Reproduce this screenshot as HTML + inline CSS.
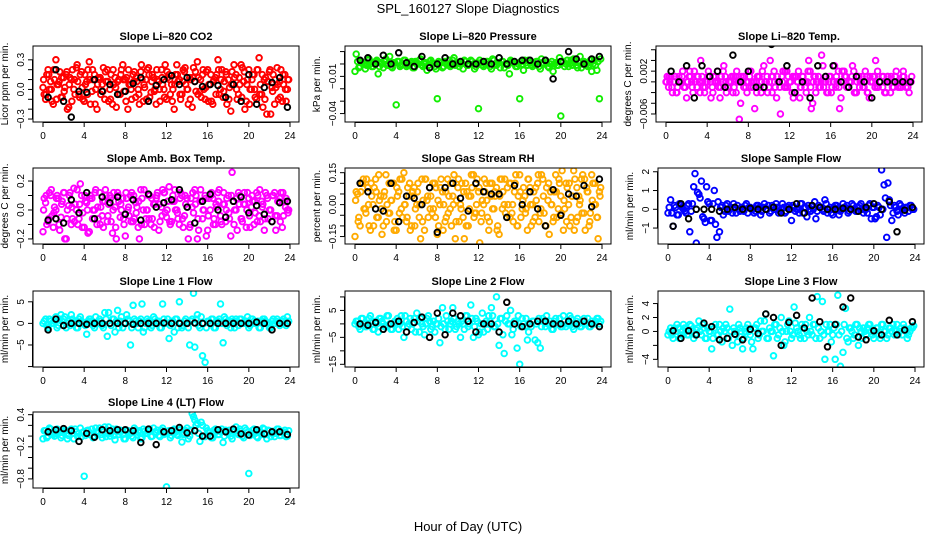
<!DOCTYPE html>
<html><head><meta charset="utf-8"><style>
body{margin:0;background:#fff;}
svg{display:block;font-family:"Liberation Sans",sans-serif;}
</style></head><body>
<svg id="chart" width="936" height="540">
<text x="468" y="13" text-anchor="middle" font-size="13">SPL_160127  Slope Diagnostics</text>
<text x="468" y="531" text-anchor="middle" font-size="13">Hour of Day (UTC)</text>
</svg>
<script>
const hoursA=[0,0.25,0.5,0.75,1,1.25,1.5,1.75,2,2.25,2.5,2.75,3,3.25,3.5,3.75,4,4.25,4.5,4.75,5,5.25,5.5,5.75,6,6.25,6.5,6.75,7,7.25,7.5,7.75,8,8.25,8.5,8.75,9,9.25,9.5,9.75,10,10.25,10.5,10.75,11,11.25,11.5,11.75,12,12.25,12.5,12.75,13,13.25,13.5,13.75,14,14.25,14.5,14.75,15,15.25,15.5,15.75,16,16.25,16.5,16.75,17,17.25,17.5,17.75,18,18.25,18.5,18.75,19,19.25,19.5,19.75,20,20.25,20.5,20.75,21,21.25,21.5,21.75,22,22.25,22.5,22.75,23,23.25,23.5,23.75];
const hoursB=[0.12,0.37,0.62,0.87,1.12,1.37,1.62,1.87,2.12,2.37,2.62,2.87,3.12,3.37,3.62,3.87,4.12,4.37,4.62,4.87,5.12,5.37,5.62,5.87,6.12,6.37,6.62,6.87,7.12,7.37,7.62,7.87,8.12,8.37,8.62,8.87,9.12,9.37,9.62,9.87,10.12,10.37,10.62,10.87,11.12,11.37,11.62,11.87,12.12,12.37,12.62,12.87,13.12,13.37,13.62,13.87,14.12,14.37,14.62,14.87,15.12,15.37,15.62,15.87,16.12,16.37,16.62,16.87,17.12,17.37,17.62,17.87,18.12,18.37,18.62,18.87,19.12,19.37,19.62,19.87,20.12,20.37,20.62,20.87,21.12,21.37,21.62,21.87,22.12,22.37,22.62,22.87,23.12,23.37,23.62,23.87];
const hoursC=[0.06,0.31,0.56,0.81,1.06,1.31,1.56,1.81,2.06,2.31,2.56,2.81,3.06,3.31,3.56,3.81,4.06,4.31,4.56,4.81,5.06,5.31,5.56,5.81,6.06,6.31,6.56,6.81,7.06,7.31,7.56,7.81,8.06,8.31,8.56,8.81,9.06,9.31,9.56,9.81,10.06,10.31,10.56,10.81,11.06,11.31,11.56,11.81,12.06,12.31,12.56,12.81,13.06,13.31,13.56,13.81,14.06,14.31,14.56,14.81,15.06,15.31,15.56,15.81,16.06,16.31,16.56,16.81,17.06,17.31,17.56,17.81,18.06,18.31,18.56,18.81,19.06,19.31,19.56,19.81,20.06,20.31,20.56,20.81,21.06,21.31,21.56,21.81,22.06,22.31,22.56,22.81,23.06,23.31,23.56,23.81];
const hoursK=[0.5,1.25,2,2.75,3.5,4.25,5,5.75,6.5,7.25,8,8.75,9.5,10.25,11,11.75,12.5,13.25,14,14.75,15.5,16.25,17,17.75,18.5,19.25,20,20.75,21.5,22.25,23,23.75];
const xTicks=[0,4,8,12,16,20,24];

const co2A=[.02,-.1,.2,.08,-.15,.3,.05,-.08,.12,.15,-.18,.1,.0,.22,-.05,.18,-.12,.08,.28,-.02,.15,-.2,.1,.05,-.1,.2,.0,-.15,.12,.08,-.05,.25,.1,-.2,.05,.15,-.08,.0,.18,-.12,.1,.22,-.03,.12,-.15,.08,.2,.0,-.1,.15,.05,-.2,.25,.1,-.05,.18,.0,.12,-.18,.08,.28,-.02,.15,-.1,.2,.05,-.15,.12,.3,.0,-.08,.18,.1,-.22,.05,.15,-.05,.25,.08,-.12,.2,.0,.15,-.1,.32,-.05,.1,-.25,.18,.02,-.15,.22,.08,-.12,.15,.0];
const co2B=[-.05,.15,.0,-.12,.1,.05,.18,-.08,.02,-.2,.12,.2,-.05,.08,.15,-.1,.05,.2,-.15,.1,.0,.12,-.05,.22,.08,-.12,.15,.05,-.18,.1,.2,-.02,.12,.05,-.1,.18,.08,-.15,.1,.02,.2,-.08,.15,.0,.1,-.12,.05,.25,.12,-.05,.0,.15,.08,-.1,.2,.05,-.15,.1,.22,-.02,.12,-.08,.0,.18,.05,-.12,.1,.15,-.05,.2,.08,-.15,.02,.18,.12,-.1,.05,.22,-.2,.1,.0,.15,-.08,.2,.05,-.18,.12,.08,-.25,.15,.02,-.1,.2,.05,-.12,.1];
const co2C=[.1,-.05,.15,.0,.2,-.1,.08,.12,-.02,.18,.05,-.12,.1,.25,-.08,.02,.15,-.05,.1,.2,-.15,.05,.12,-.02,.18,.08,-.1,.2,.02,-.05,.15,.1,-.12,.2,.0,.08,.12,-.05,.25,.05,-.1,.15,.08,-.02,.2,.0,.12,-.08,.18,.1,-.12,.05,.15,-.05,.08,.22,.0,-.1,.12,.18,-.05,.1,.2,.02,-.12,.15,.08,-.05,.2,.1,-.02,.15,-.1,.05,.25,.0,.12,-.08,.18,.05,-.15,.1,.0,.2,-.05,.15,-.1,.08,.2,-.02,.1,.05,-.08,.15,.0,.1];
const co2K=[-.08,.2,-.12,-.28,-.02,-.03,.1,-.02,.05,-.05,-.02,.06,.12,-.12,.04,.1,.14,.05,.12,.08,.03,.05,.04,-.08,.05,-.12,.15,-.15,.02,.07,.12,-.18];

const presA=[-.006,.002,-.002,.001,-.004,.003,.0,-.002,.002,-.008,.001,-.003,.004,.0,-.002,.001,-.033,.002,-.001,.003,-.002,.0,.002,-.003,.001,.003,-.001,.0,-.005,.002,.001,-.002,-.028,.001,-.003,.002,.0,-.002,.003,-.001,.001,.0,-.004,.002,-.001,.003,.0,-.002,-.036,.001,-.002,.002,.0,-.004,.003,-.001,.001,.002,-.003,.0,-.008,.002,.001,-.002,-.028,.0,.003,-.001,.001,-.002,.0,.002,-.004,.001,.003,-.002,.0,-.006,.001,-.001,-.042,.002,.0,-.002,.003,.004,-.001,.001,-.003,.002,.0,-.001,-.006,.003,-.005,-.028];
const presB=[.008,-.003,.002,.0,-.001,.004,-.002,.001,.003,-.002,.0,.002,-.001,.006,-.003,.001,.002,-.002,.0,.003,-.001,.001,-.003,.002,.0,.004,-.002,.001,-.001,.003,.0,-.004,.002,.001,-.002,.0,.003,-.001,.005,.0,-.002,.001,.003,-.001,.0,.002,-.004,.001,.003,-.001,.0,.002,-.002,.004,.0,.001,-.003,.002,.0,-.001,.003,.001,-.002,.0,.002,-.005,.001,.003,-.001,.0,.002,-.002,.004,.0,.001,-.003,.002,.0,-.001,.005,.001,-.002,.003,.0,-.001,.002,-.003,.006,.0,.001,-.002,.003,.0,-.001,.002,.004];
const presK=[.003,.005,.0,.007,.0,.009,.001,-.002,.006,-.003,.0,.005,.0,.002,.0,.0,.002,.0,.005,.0,.002,.003,.003,.0,.003,-.012,.002,.01,.004,.0,.004,.006];

const tempA=[0,-.001,.001,0,-.002,.001,0,-.001,-.003,.001,0,.002,-.001,0,.001,-.002,0,.001,-.001,0,.002,-.003,0,.001,-.001,0,-.002,.001,0,-.004,.001,-.001,0,.002,-.001,0,.001,-.002,.003,0,-.001,.001,.002,-.003,0,.001,-.001,.002,0,-.002,.001,0,-.003,.001,-.001,0,.002,-.004,.001,0,-.001,.003,0,-.002,.001,0,-.001,.002,-.003,0,.001,-.001,0,.002,-.002,.001,0,-.001,.001,-.003,0,.001,-.001,0,.001,-.002,.001,0,-.001,.001,0,-.001,.001,0,-.001,0];
const tempB=[.001,0,-.002,.001,-.001,0,.002,-.001,0,.001,-.002,0,.001,.004,-.001,0,.002,-.003,.001,0,-.001,.001,.003,-.002,0,.001,-.001,.002,-.007,0,.001,-.002,.001,0,-.005,.001,-.001,.002,0,-.002,.004,.001,-.001,0,-.006,.002,-.001,.001,0,-.003,.001,.002,-.001,0,-.002,.004,-.005,.001,0,-.001,.005,0,-.002,.001,-.001,.003,0,-.005,.002,.001,-.001,0,.003,-.002,.001,0,-.001,.002,-.002,0,.001,.004,-.001,0,.001,-.002,0,.001,-.001,.002,0,-.001,.001,0,-.002,.001];
const tempC=[0,.001,-.001,0,-.002,0,.001,-.001,0,.002,-.001,0,.001,-.002,0,-.001,.001,0,-.002,.001,0,-.001,.002,0,-.001,0,.001,-.002,0,.001,-.001,0,.002,-.001,0,-.002,.001,0,-.001,.001,0,-.002,0,.001,-.001,0,.002,-.001,0,.001,-.002,0,-.001,.001,0,.002,-.001,0,-.002,.001,0,-.001,.001,0,-.002,0,.001,-.001,0,.002,-.001,0,.001,-.002,0,-.001,.001,0,-.002,.001,0,-.001,.002,0,-.001,0,.001,-.002,0,.001,-.001,0,.002,-.001,0,0];
const tempK=[.002,.0,.003,-.003,.003,.001,.002,-.001,.005,.0,.002,-.001,-.001,.007,.0,.003,-.002,.0,-.003,.003,.001,.003,.0,-.001,.001,.0,-.003,.0,.0,.0,.0,.0];

const ambA=[-.15,.05,-.08,.1,-.12,.0,.08,-.05,.12,-.2,.03,-.1,.15,.0,-.06,.1,-.12,.05,-.15,.08,.0,-.1,.12,-.04,.06,-.08,.1,-.16,.02,.12,-.05,.08,-.18,.0,.1,-.08,.05,-.12,.14,.0,-.06,.1,-.1,.04,.08,-.14,.02,.12,-.05,.16,-.08,.06,.0,-.1,.1,-.04,.08,-.12,.02,.14,-.2,.06,-.06,.1,-.14,.0,.08,-.1,.12,-.04,.04,-.08,.1,-.18,.06,.0,.12,-.06,.04,-.12,.08,.02,-.1,.12,-.04,.06,-.14,.1,.0,-.08,.12,-.04,.08,-.12,.06,.0];
const ambB=[.08,-.1,.12,-.04,.02,.1,-.14,.06,-.2,.0,.12,-.06,.04,-.1,.18,-.02,.06,-.16,.1,.0,.14,-.06,.02,-.12,.1,.04,-.08,.12,-.2,.06,.0,-.1,.08,-.04,.12,-.06,.02,-.2,.08,-.1,.0,.1,-.06,.04,.12,-.08,.14,-.02,.06,-.1,.1,.0,-.06,.12,-.12,.04,-.2,.08,-.02,.1,-.14,.06,.0,-.18,.08,.12,-.06,.02,.14,-.1,.04,.08,-.06,.26,.0,-.14,.1,-.08,.04,.12,-.12,.06,-.02,.1,-.08,.04,.12,-.06,.0,.1,-.14,.06,.12,-.04,.08,.0];
const ambC=[.0,.1,-.06,.14,-.02,.08,-.1,.04,.12,-.06,.1,.02,-.08,.14,.04,-.12,.1,.0,.08,-.06,.12,.02,-.1,.06,.14,-.04,.08,.0,-.12,.1,.04,-.06,.12,.02,-.08,.1,-.02,.06,-.1,.14,.0,-.06,.08,-.12,.1,.04,-.04,.12,.0,-.08,.06,.14,-.02,.08,-.06,.1,.02,-.1,.12,.04,-.06,.14,.0,.08,-.04,.1,-.1,.04,.06,-.08,.12,.0,-.02,.1,-.1,.08,.04,-.06,.12,.0,-.04,.1,.06,-.08,.14,.02,-.06,.08,.0,.1,-.04,.06,-.08,.12,.02,-.02];
const ambK=[-.07,-.06,-.09,.07,-.02,.12,-.06,.09,.05,.09,-.03,.07,-.07,.11,.02,.05,.07,.14,.02,-.09,.06,.11,.0,-.05,.06,.09,-.02,.03,-.03,-.08,.05,.06];

const rhA=[-.15,.05,-.1,.1,-.02,.08,-.12,.0,.12,-.06,.04,-.1,.14,-.04,.02,.1,-.12,.06,-.02,.15,-.08,.04,-.1,.08,.0,-.06,.12,-.12,.02,.08,-.04,.1,-.14,.0,.06,-.08,.12,-.02,.04,-.16,.08,.0,-.06,.1,-.1,.04,.14,-.04,.06,-.08,.0,.1,-.12,.04,-.02,.08,-.14,.12,.0,-.06,.1,-.04,.06,-.1,.14,-.02,.04,-.12,.08,.0,-.06,.1,-.04,.12,-.1,.02,.06,-.08,.14,-.02,.04,-.12,.1,.0,-.06,.16,-.08,.04,.12,-.04,.08,-.1,.14,.0,-.06,.06];
const rhB=[.06,-.06,.1,-.02,.12,-.1,.04,.08,-.06,.02,-.14,.06,.0,-.04,.1,-.08,.04,.12,-.06,.0,.08,-.12,.06,-.02,.1,-.16,.02,.12,-.06,.04,-.02,.08,-.1,.12,.0,-.06,.04,-.1,.14,.02,-.08,.1,-.16,.06,-.02,.08,-.04,.12,-.18,.02,.06,-.06,.1,-.02,.04,-.1,.12,.06,-.04,.0,.1,-.08,.14,.04,-.06,.08,-.02,.12,-.1,.06,.02,-.08,.14,-.04,.08,-.14,.0,.06,-.06,.1,.16,-.02,.08,-.1,.04,.12,-.06,.02,.14,-.12,.06,-.04,.1,.0,-.16,.08];
const rhC=[.02,-.08,.06,.12,-.04,.0,.1,-.1,.06,.14,-.02,.04,-.08,.1,.02,-.12,.08,-.04,.12,.0,-.06,.1,.04,-.1,.06,.0,-.08,.12,.04,-.02,.1,-.06,.02,.08,-.12,.06,-.04,.1,.0,-.08,.12,-.02,.06,-.1,.04,.14,-.06,.0,.08,-.04,.12,.02,-.08,.1,.06,-.12,.04,-.02,.12,.08,-.06,.0,.1,-.1,.06,.02,-.04,.12,.0,-.08,.08,.14,-.02,.04,-.1,.1,.0,-.06,.06,.12,-.04,.02,-.08,.1,.04,-.12,.08,.0,-.04,.12,.06,-.08,.02,.1,-.06,.04];
const rhK=[.1,.06,-.02,-.03,.1,-.08,.04,.03,.0,.08,-.13,.08,.1,.03,-.03,.1,.06,.05,.05,-.06,.09,.0,.06,-.02,-.1,.07,-.05,.05,.04,.09,-.01,.12];

const sfA=[-.2,.5,-.9,.1,-.3,.2,0,-.2,.3,-.1,1.2,-1.8,.8,1.5,-.5,1.2,.3,-.6,1.0,-1.5,-1.2,.2,-.1,.3,0,-.2,.1,.2,-.1,0,.2,-.2,.1,.0,-.1,.2,-.3,.1,0,.2,-.1,.1,.3,-.2,0,.1,-.1,.2,-.6,.1,0,-.2,.3,.1,-.4,.0,.2,.4,-.1,.1,0,.5,-.2,.1,-.3,.2,0,-.1,.3,.1,-.2,0,.2,-.1,.1,.3,-.2,0,.2,-.5,.1,-.4,.1,2.1,1.3,-1.5,.5,-.6,.2,-.1,.3,0,-.2,.1,.2,0];
const sfB=[.1,-.2,.2,-.3,.3,.1,-.1,.2,-1.2,.3,1.9,.9,.6,-.4,-.7,.4,-.6,.3,-.8,.4,.1,-.3,.2,-.1,.1,.3,-.2,0,.1,-.1,.3,.1,0,-.2,.2,.1,-.1,.3,0,-.2,.2,0,.1,-.1,.3,-.2,.1,0,.2,-.1,0,.3,-.2,.1,.2,-.1,0,-.5,.2,.1,-.1,.3,0,-.2,.1,.2,-.3,0,.1,.2,-.1,.3,0,-.1,.2,0,.1,-.2,.3,.1,-.5,.2,-.3,0,.6,1.4,.2,-.2,.1,-.3,.2,0,.1,-.1,.2,0];
const sfK=[-.9,.3,-.5,0,0,.0,-.1,0,.1,0,.05,.0,0,.1,-.2,.0,.3,-.2,.2,.1,0,0,.05,0,-.1,.1,.3,.0,.4,-1.2,-.05,.1];

const l1A=[0,1,-1,.5,0,1.5,-.5,2,1,-1,.5,2,0,-1,1,.5,0,-2.5,1,.5,-1,0,1,-.5,2.5,-3,0,1,-2,3,.5,-1,0,1,-5,4.2,.5,-1,1,-2,0,.5,-1,1.5,0,.5,-1,1,0,-3.5,.5,-2,1,5,-1,.5,0,-5,1,-5.5,2,-1,-7.5,-9,.5,0,1,-1,.5,4.5,-4.5,1,0,-1,.5,1,-.5,1,0,.5,-1,1,.5,0,-1,.5,1,0,-1,.5,0,1,-.5,.5,0,1.5];
const l1B=[.5,-.5,1,0,.5,-1,1,.5,1.5,0,-.5,1,.5,-1,1.5,0,-.5,.5,1,-.5,1.5,0,.5,-1,1,2.5,-.5,1,.5,-1,1.5,0,2,.5,-1,1,0,.5,4.5,-1,1,0,-.5,1,.5,-1,4.5,0,1,-.5,.5,1,-1,0,-.5,1,-1,.5,7,1,-.5,1.5,0,-1,.5,1,-1,.5,1,0,1.5,-.5,.5,1,-1,.5,1,0,.5,1.5,-.5,1,0,.5,-1,1,.5,0,-1,1,.5,0,.5,1,-.5,.5];
const l1K=[-1.5,1,-.5,0,0,-.2,0,0,0,0,0,-.2,0,0,0,.1,0,0,0,.1,0,0,0,0,0,0,0,.3,0,-1.5,0,0];

const l2A=[0,1,-2,2,-1,0,3,-2,1,-3,2,0,-1,3,-2,0,1,-2,3,-5,1,0,-2,2,4,-3,0,-4,2,1,-1,-3,0,-7,6,-2,1,0,6,-2,1,-5,0,3,-1,7,-5,2,-4,0,-3,1,3,6,-1,10,-8,2,-11,3,0,-4,1,-9,-15,2,-1,-6,0,1,-6,-7,-9,2,-1,0,1,-2,2,0,-1,3,-1,0,2,-2,1,0,-1,2,0,-1,1,0,2,0];
const l2B=[1,-1,2,0,-1,2,1,-2,0,2,1,-1,3,0,-2,1,2,0,-1,3,-1,2,0,-3,1,2,-1,0,3,-2,1,0,2,-1,0,3,-2,1,2,-1,0,1,-2,3,0,2,-1,1,-3,4,0,-2,1,3,-1,0,2,-4,1,0,5,-2,1,3,-1,0,2,-3,-1,1,0,2,-1,1,3,0,-2,1,0,2,-1,1,0,3,-1,0,2,-1,1,0,2,-1,0,1,2,1];
const l2K=[0,-.5,.5,-2,0,1,-3,.5,2.5,-5,4,-4,4,3,1,-3,0,0,-3,8,0,-1,0,1,1,0,0,1,0,1,0,-1];

const l3A=[-.5,.5,-1,0,.5,-.5,1,0,-.5,.8,-1,.2,1.5,-.5,.5,-1,0,-2.5,.5,-.5,1,-1.5,0,.5,3.2,-2,0,-1.5,.5,-2.5,0,1,-.5,-2.5,.5,-1,1.5,0,2.5,-1,0,-3.5,1,-.5,2,-2,0,1.5,-1,3.5,.5,-.5,1,-1,0,2,-.5,1,5,-1,4.3,-4,0,1,-.5,-4,5.2,-5,-3,3.3,-1.5,.5,-1,1,-2,0,.5,-.5,1,0,-1,.5,-.5,1,0,-1,.5,0,-.5,1,0,-.5,.5,-1,0,.5];
const l3B=[0,-.5,.5,1,-1,0,.5,-.5,1,0,-.5,.5,0,1,-1,.5,0,-1,1,-.5,0,.5,1,-1,0,.5,-.5,1,0,-1,.5,0,-1.5,.5,1,-.5,0,1.5,-1,.5,0,1,-1,.5,0,-1.5,1,0,-.5,1.2,0,-1,.5,1,-.5,0,1,-1,.5,0,-.5,1,0,-1.5,.5,1,-.5,0,1,-1,.5,0,-.5,1,.5,-1,0,.5,1,-.5,0,.5,-1,1,0,-.5,.5,1,0,-.5,.5,1,0,-.5,.5,.8];
const l3K=[.1,-1,.1,-.5,1.2,.7,-1.2,-1,-.4,-1.2,.3,-.3,2.5,2,-2,1.3,2.3,.5,4.8,1.4,-2.2,1,3.5,4.8,-.8,-1.2,.1,-.5,1.6,-.5,.2,1.4];

const l4A=[-.05,.1,0,.13,.03,.05,.11,-.03,.07,.1,.01,.13,-.05,.08,.05,-.01,-.75,.1,.03,.13,0,.07,.15,-.03,.17,.05,0,.13,-.07,.08,.11,.03,-.05,.1,.05,-.03,.11,.07,-.05,.13,.05,.09,-.01,.15,.07,.01,.11,.03,-.95,.1,.01,.13,.03,.11,-.11,.05,.15,0,.42,.3,.24,-.1,.2,-.01,.1,.07,-.03,.13,.03,.09,-.12,.11,.05,0,.13,.17,.03,.09,-.03,.11,-.7,.05,.13,-.01,.09,.03,.13,-.05,.1,.05,-.01,.13,.01,.07,.11,0];
const l4B=[.1,-.03,.15,.05,0,.13,.07,.01,.11,-.05,.09,.05,.13,-.01,.15,.07,.01,.11,.05,-.03,.15,.09,.03,.11,-.01,.17,.05,.01,.13,.03,.09,-.05,.11,.05,0,.15,.03,.1,-.03,.09,.05,.13,0,.07,.11,-.01,.15,.05,.09,-.03,.11,.07,.01,.13,.03,.1,-.05,.11,.36,.2,.05,.26,0,.15,.07,-.03,.11,.09,.03,.13,0,.07,.11,-.05,.09,.05,.13,0,.15,.07,.01,.11,.05,-.03,.09,.15,.03,.11,-.01,.09,.05,.13,.01,.07,-.01,.1];
const l4K=[.08,.12,.14,.1,-.1,.05,-.02,.12,.1,.12,.12,.1,-.12,.13,-.16,.08,.1,.16,.06,.1,.0,.0,.12,.08,.13,.04,.02,.12,.04,.08,.08,.03];

const panels=[
 {title:'Slope Li\u2013820 CO2',ylab:'Licor ppm per min.',col:'#ff0000',L:33,T:46,dom:[-0.33,0.44],yt:[-0.3,-0.2,-0.1,0,0.1,0.2,0.3],yl:[[-0.3,'\u22120.3'],[0,'0.0'],[0.3,'0.3']],a:co2A,b:co2B,c:co2C,k:co2K},
 {title:'Slope Li\u2013820 Pressure',ylab:'kPa per min.',col:'#11ee00',L:345,T:46,dom:[-0.0468,0.0145],yt:[-0.04,-0.03,-0.02,-0.01,0,0.01],yl:[[-0.04,'\u22120.04'],[-0.01,'\u22120.01']],a:presA,b:presB,k:presK},
 {title:'Slope Li\u2013820 Temp.',ylab:'degrees C per min.',col:'#ff00ff',L:656,T:46,dom:[-0.0075,0.0067],yt:[-0.006,-0.004,-0.002,0,0.002,0.004,0.006],yl:[[-0.006,'\u22120.006'],[0.002,'0.002']],a:tempA,b:tempB,c:tempC,k:tempK},
 {title:'Slope Amb. Box Temp.',ylab:'degrees C per min.',col:'#ff00ff',L:33,T:168,dom:[-0.235,0.29],yt:[-0.2,-0.1,0,0.1,0.2],yl:[[-0.2,'\u22120.2'],[0,'0.0'],[0.2,'0.2']],a:ambA,b:ambB,c:ambC,k:ambK},
 {title:'Slope Gas Stream RH',ylab:'percent per min.',col:'#ffaa00',L:345,T:168,dom:[-0.185,0.172],yt:[-0.15,-0.1,-0.05,0,0.05,0.1,0.15],yl:[[-0.15,'\u22120.15'],[0,'0.00'],[0.15,'0.15']],a:rhA,b:rhB,c:rhC,k:rhK},
 {title:'Slope Sample Flow',ylab:'ml/min per min.',col:'#0000ff',L:658,T:168,dom:[-1.85,2.2],yt:[-1,0,1,2],yl:[[-1,'\u22121'],[0,'0'],[1,'1'],[2,'2']],a:sfA,b:sfB,k:sfK},
 {title:'Slope Line 1 Flow',ylab:'ml/min per min.',col:'#00ffff',L:33,T:291,dom:[-10.1,7.5],yt:[-10,-5,0,5],yl:[[-5,'\u22125'],[0,'0'],[5,'5']],a:l1A,b:l1B,k:l1K},
 {title:'Slope Line 2 Flow',ylab:'ml/min per min.',col:'#00ffff',L:345,T:291,dom:[-16,12.2],yt:[-15,-10,-5,0,5,10],yl:[[-15,'\u221215'],[-5,'\u22125'],[5,'5']],a:l2A,b:l2B,k:l2K},
 {title:'Slope Line 3 Flow',ylab:'ml/min per min.',col:'#00ffff',L:658,T:291,dom:[-5.1,5.8],yt:[-4,-2,0,2,4],yl:[[-4,'\u22124'],[0,'0'],[2,'2'],[4,'4']],a:l3A,b:l3B,k:l3K},
 {title:'Slope Line 4 (LT) Flow',ylab:'ml/min per min.',col:'#00ffff',L:33,T:412,dom:[-0.97,0.45],yt:[-0.8,-0.6,-0.4,-0.2,0,0.2,0.4],yl:[[-0.8,'\u22120.8'],[-0.2,'\u22120.2'],[0.4,'0.4']],a:l4A,b:l4B,k:l4K}
];
const W=266,H=76,NS='http://www.w3.org/2000/svg';
const svg=document.getElementById('chart');
function mk(tag,attrs,parent){const e=document.createElementNS(NS,tag);for(const k in attrs)e.setAttribute(k,attrs[k]);(parent||svg).appendChild(e);return e;}
panels.forEach((p,pi)=>{
  const g=mk('g',{});
  
  
  const xs=h=>p.L+10+h*(W-19)/24;
  const ys=v=>p.T+H-(v-p.dom[0])/(p.dom[1]-p.dom[0])*H;
  const t=mk('text',{x:p.L+W/2,y:p.T-6,'text-anchor':'middle','font-size':'11','font-weight':'bold'},g);
  t.textContent=p.title;
  
  
  const clip=mk('clipPath',{id:'c'+pi},g);mk('rect',{x:p.L,y:p.T,width:W,height:H},clip);
  const pts=mk('g',{'clip-path':'url(#c'+pi+')',fill:'none','stroke-width':'1.9'},g);
  
  
  const sets=[[hoursA,p.a,p.col],[hoursB,p.b,p.col]];
  if(p.c)sets.push([hoursC,p.c,p.col]);
  sets.push([hoursK,p.k,'#000']);
  sets.forEach(([hx,vy,c])=>{
    const n=Math.min(hx.length,vy.length);
    for(let i=0;i<n;i++){
      const c1=mk('circle',{cx:xs(hx[i]).toFixed(1),cy:ys(vy[i]).toFixed(1),r:'2.8',stroke:c},pts);
      
      
    }
  });
  const box=mk('rect',{x:p.L,y:p.T,width:W,height:H,fill:'none',stroke:'#000','stroke-width':'1'},g);
  
  
  const B=p.T+H;
  mk('line',{x1:xs(0),x2:xs(24),y1:B+0.5,y2:B+0.5,stroke:'#000'},g);
  xTicks.forEach(v=>{
    mk('line',{x1:xs(v),x2:xs(v),y1:B,y2:B+5,stroke:'#000'},g);
    const tl=mk('text',{x:xs(v),y:B+17,'text-anchor':'middle','font-size':'10'},g);
    tl.textContent=v;
    
    
  });
  mk('line',{x1:p.L-0.5,x2:p.L-0.5,y1:ys(p.yt[0]),y2:ys(p.yt[p.yt.length-1]),stroke:'#000'},g);
  p.yt.forEach(v=>{mk('line',{x1:p.L-5,x2:p.L,y1:ys(v),y2:ys(v),stroke:'#000'},g);});
  p.yl.forEach(([v,s])=>{
    const y=ys(v);
    const tl=mk('text',{x:p.L-9,y:y,'text-anchor':'middle','font-size':'10',transform:`rotate(-90 ${p.L-9} ${y})`},g);
    tl.textContent=s;
    
    
  });
  const yl=mk('text',{x:p.L-25,y:p.T+H/2,'text-anchor':'middle','font-size':'10',transform:`rotate(-90 ${p.L-25} ${p.T+H/2})`},g);
  yl.textContent=p.ylab;
  
  
});
</script>
</body></html>
